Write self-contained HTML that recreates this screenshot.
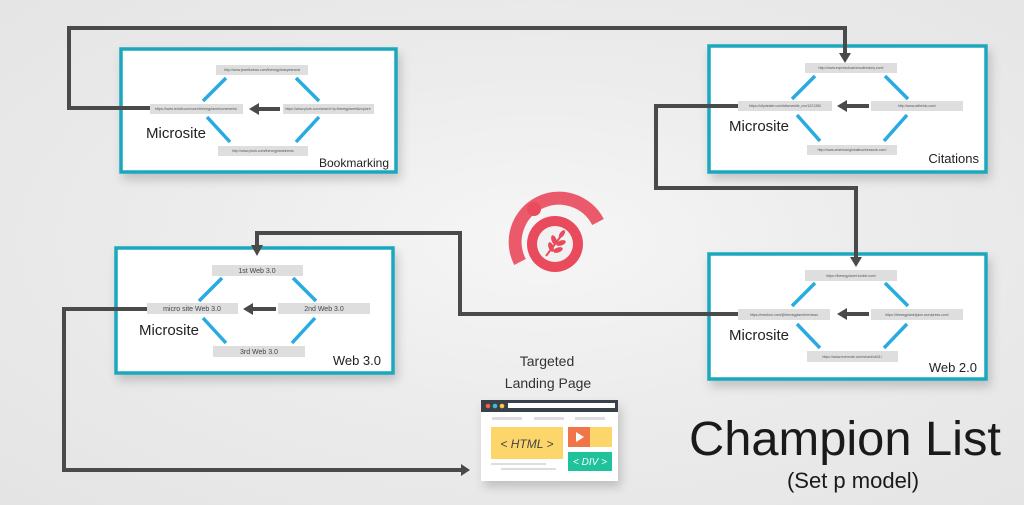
<!DOCTYPE html>
<html><head><meta charset="utf-8"><style>
html,body{margin:0;padding:0;}
body{width:1024px;height:505px;overflow:hidden;background:radial-gradient(ellipse at 540px 240px,#f6f6f6 0%,#ececec 45%,#e4e4e4 100%);font-family:"Liberation Sans",sans-serif;}
svg{display:block}
</style></head><body>
<svg width="1024" height="505" viewBox="0 0 1024 505" xmlns="http://www.w3.org/2000/svg" font-family="Liberation Sans, sans-serif">
<defs>
<filter id="sh" x="-10%" y="-10%" width="130%" height="140%"><feDropShadow dx="3" dy="6" stdDeviation="5" flood-color="#000" flood-opacity="0.18"/></filter>
</defs>

<g fill="#fff" stroke="#1ba7bd" stroke-width="3.5" filter="url(#sh)">
<rect x="121" y="49" width="275" height="123"/>
<rect x="709" y="46" width="277" height="126"/>
<rect x="116" y="248" width="277" height="125"/>
<rect x="709" y="254" width="277" height="125"/>
</g>

<g fill="none" stroke="#4a4a4a" stroke-width="4">
<polyline points="150,108 69,108 69,28 845,28 845,54"/>
<polyline points="740,106 656,106 656,188 856,188 856,258"/>
<polyline points="738,314 460,314 460,233 257,233 257,246"/>
<polyline points="147,309 64,309 64,470 462,470"/>
</g>
<g fill="#4a4a4a">
<polygon points="839,53 851,53 845,63"/>
<polygon points="850,257 862,257 856,267"/>
<polygon points="251,245 263,245 257,256"/>
<polygon points="461,464 461,476 470,470"/>
</g>

<g>
<g fill="#dedede">
<rect x="216" y="65" width="92" height="10"/><rect x="150" y="104" width="93" height="10"/>
<rect x="283" y="104" width="91" height="10"/><rect x="218" y="146" width="90" height="10"/>
</g>
<g stroke="#29abe2" stroke-width="3.5">
<line x1="226" y1="78" x2="203" y2="101"/><line x1="296" y1="78" x2="319" y2="101"/>
<line x1="207" y1="117" x2="230" y2="142"/><line x1="319" y1="117" x2="296" y2="142"/>
</g>
<line x1="280" y1="109" x2="258" y2="109" stroke="#4a4a4a" stroke-width="4"/><polygon points="249,109 259,103 259,115" fill="#4a4a4a"/>
<g font-size="3.5" fill="#555" text-anchor="middle">
<text x="262" y="71">http://www.jewelknews.com/thevegplaneyearseat</text>
<text x="196" y="110">https://www.reddit.com/user/thevegplanet/comments/</text>
<text x="328" y="110">https://www.plurk.com/search?q=thevegplanet&amp;explore</text>
<text x="263" y="152">http://www.plurk.com/thevegplanetnews</text>
</g>
<text x="146" y="138" font-size="15" fill="#222">Microsite</text>
<text x="389" y="167" font-size="12" fill="#222" text-anchor="end">Bookmarking</text>
</g>

<g>
<g fill="#dedede">
<rect x="805" y="63" width="92" height="10"/><rect x="738" y="101" width="94" height="10"/>
<rect x="871" y="101" width="92" height="10"/><rect x="807" y="145" width="90" height="10"/>
</g>
<g stroke="#29abe2" stroke-width="3.5">
<line x1="815" y1="76" x2="792" y2="99"/><line x1="885" y1="76" x2="908" y2="99"/>
<line x1="797" y1="115" x2="820" y2="141"/><line x1="907" y1="115" x2="884" y2="141"/>
</g>
<line x1="869" y1="106" x2="846" y2="106" stroke="#4a4a4a" stroke-width="4"/><polygon points="837,106 847,100 847,112" fill="#4a4a4a"/>
<g font-size="3.5" fill="#555" text-anchor="middle">
<text x="851" y="69">http://www.expressbusinessdirectory.com/</text>
<text x="785" y="107">https://citydealer.com/tdtumeville_mo/1221350</text>
<text x="917" y="107">http://www.atthehio.com/</text>
<text x="852" y="151">http://www.americanglobalbusinessusb.com/</text>
</g>
<text x="729" y="131" font-size="15" fill="#222">Microsite</text>
<text x="979" y="163" font-size="13" fill="#222" text-anchor="end">Citations</text>
</g>

<g>
<g fill="#dedede">
<rect x="212" y="265" width="91" height="11"/><rect x="147" y="303" width="91" height="11"/>
<rect x="278" y="303" width="92" height="11"/><rect x="213" y="346" width="92" height="11"/>
</g>
<g stroke="#29abe2" stroke-width="3.5">
<line x1="222" y1="278" x2="199" y2="301"/><line x1="293" y1="278" x2="316" y2="301"/>
<line x1="203" y1="318" x2="226" y2="343"/><line x1="315" y1="318" x2="292" y2="343"/>
</g>
<line x1="276" y1="309" x2="252" y2="309" stroke="#4a4a4a" stroke-width="4"/><polygon points="243,309 253,303 253,315" fill="#4a4a4a"/>
<g font-size="7" fill="#444" text-anchor="middle">
<text x="257" y="273">1st Web 3.0</text>
<text x="192" y="311">micro site Web 3.0</text>
<text x="324" y="311">2nd Web 3.0</text>
<text x="259" y="354">3rd Web 3.0</text>
</g>
<text x="139" y="335" font-size="15" fill="#222">Microsite</text>
<text x="381" y="365" font-size="13" fill="#222" text-anchor="end">Web 3.0</text>
</g>

<g>
<g fill="#dedede">
<rect x="805" y="270" width="92" height="11"/><rect x="738" y="309" width="92" height="11"/>
<rect x="871" y="309" width="92" height="11"/><rect x="807" y="351" width="91" height="11"/>
</g>
<g stroke="#29abe2" stroke-width="3.5">
<line x1="815" y1="283" x2="792" y2="306"/><line x1="885" y1="283" x2="908" y2="306"/>
<line x1="797" y1="324" x2="820" y2="348"/><line x1="907" y1="324" x2="884" y2="348"/>
</g>
<line x1="869" y1="314" x2="846" y2="314" stroke="#4a4a4a" stroke-width="4"/><polygon points="837,314 847,308 847,320" fill="#4a4a4a"/>
<g font-size="3.5" fill="#555" text-anchor="middle">
<text x="851" y="277">https://thevegplanet.tumblr.com/</text>
<text x="784" y="316">https://medium.com/@thevegplanet/reviews</text>
<text x="917" y="316">https://thevegplanetjuice.wordpress.com/</text>
<text x="852" y="358">https://www.evernote.com/shard/s641/</text>
</g>
<text x="729" y="340" font-size="15" fill="#222">Microsite</text>
<text x="977" y="372" font-size="13" fill="#222" text-anchor="end">Web 2.0</text>
</g>

<!-- logo -->
<g>
<path d="M 520 262 A 40 40 0 1 1 598 222" fill="none" stroke="#ea5a6a" stroke-width="13" stroke-linecap="butt"/>
<circle cx="555" cy="244" r="28" fill="#e94b5d"/>
<circle cx="555" cy="244" r="18" fill="#f1f1f1"/>
<circle cx="534" cy="209" r="7" fill="#e94b5d"/>
<line x1="546" y1="256" x2="564" y2="232" stroke="#e94b5d" stroke-width="2"/>
<g fill="#e94b5d">
<ellipse cx="554" cy="240" rx="2.5" ry="5" transform="rotate(-20 554 240)"/>
<ellipse cx="551" cy="247" rx="2.5" ry="5" transform="rotate(-20 551 247)"/>
<ellipse cx="561" cy="243" rx="2.5" ry="5" transform="rotate(70 561 243)"/>
<ellipse cx="558" cy="250" rx="2.5" ry="5" transform="rotate(70 558 250)"/>
<ellipse cx="562" cy="234" rx="2.2" ry="4.5" transform="rotate(35 562 234)"/>
</g>
</g>

<text x="547" y="366" font-size="14" fill="#333" text-anchor="middle">Targeted</text>
<text x="548" y="388" font-size="14" fill="#333" text-anchor="middle">Landing Page</text>
<g filter="url(#sh)">
<rect x="481" y="400" width="137" height="81" fill="#fff"/>
</g>
<rect x="481" y="400" width="137" height="12" fill="#3a4049"/>
<circle cx="488" cy="406" r="2.3" fill="#f0623f"/><circle cx="495" cy="406" r="2.3" fill="#3fbbd0"/><circle cx="502" cy="406" r="2.3" fill="#f7c948"/>
<rect x="508" y="403" width="107" height="5" fill="#fff"/>
<g fill="#ddd"><rect x="492" y="417" width="30" height="3"/><rect x="534" y="417" width="30" height="3"/><rect x="575" y="417" width="30" height="3"/></g>
<rect x="491" y="427" width="72" height="32" fill="#fcd66a"/>
<text x="527" y="448" font-size="12" font-style="italic" fill="#444" text-anchor="middle">&lt; HTML &gt;</text>
<rect x="568" y="427" width="44" height="20" fill="#fcd66a"/>
<rect x="568" y="427" width="22" height="20" fill="#f0764a"/>
<polygon points="576,432 576,442 584,437" fill="#fff"/>
<rect x="568" y="452" width="44" height="19" fill="#1fc29a"/>
<text x="590" y="465" font-size="10" font-style="italic" fill="#fff" text-anchor="middle">&lt; DIV &gt;</text>
<rect x="491" y="463" width="55" height="2" fill="#ddd"/><rect x="501" y="468" width="55" height="2" fill="#ddd"/>

<text x="845" y="455" font-size="48" fill="#1a1a1a" text-anchor="middle" textLength="312" lengthAdjust="spacingAndGlyphs">Champion List</text>
<text x="853" y="488" font-size="22" fill="#1a1a1a" text-anchor="middle">(Set p model)</text>
</svg>
</body></html>
